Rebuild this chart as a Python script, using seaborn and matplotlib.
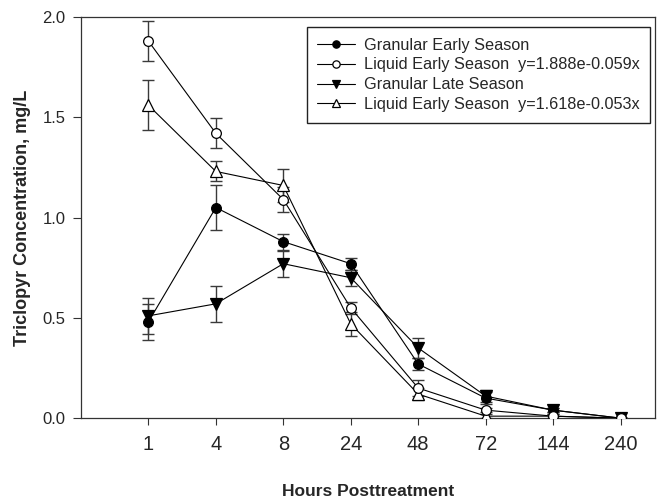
import matplotlib
matplotlib.use("Agg")
import matplotlib.pyplot as plt
import seaborn as sns
import pandas as pd

hours = ["1", "4", "8", "24", "48", "72", "144", "240"]

gran_early = [0.48, 1.05, 0.88, 0.77, 0.27, 0.10, 0.04, 0.00]
gran_early_err = [0.09, 0.11, 0.04, 0.03, 0.03, 0.03, 0.01, 0.00]

liq_early = [1.88, 1.42, 1.09, 0.55, 0.15, 0.04, 0.01, 0.00]
liq_early_err = [0.10, 0.075, 0.06, 0.03, 0.04, 0.01, 0.01, 0.00]

gran_late = [0.51, 0.57, 0.77, 0.70, 0.35, 0.11, 0.04, 0.00]
gran_late_err = [0.09, 0.09, 0.065, 0.04, 0.05, 0.03, 0.01, 0.00]

liq_early2 = [1.56, 1.23, 1.16, 0.47, 0.12, 0.01, 0.01, 0.00]
liq_early2_err = [0.125, 0.05, 0.08, 0.06, 0.03, 0.01, 0.01, 0.00]

labels = ["Granular Early Season",
          "Liquid Early Season  y=1.888e-0.059x",
          "Granular Late Season",
          "Liquid Early Season  y=1.618e-0.053x"]

sns.set_theme(style="ticks")
plt.rcParams["font.family"] = ["Liberation Sans", "DejaVu Sans"]

fig = plt.figure(figsize=(6.58, 4.99), dpi=100)
ax = fig.add_axes([0.123, 0.162, 0.8724, 0.804])

series = [
    (gran_early, gran_early_err, "o", "black", 7, 3),
    (liq_early, liq_early_err, "o", "white", 7, 5),
    (gran_late, gran_late_err, "v", "black", 8, 3),
    (liq_early2, liq_early2_err, "^", "white", 8, 4),
]

for (vals, errs, mk, fc, ms, z), lab in zip(series, labels):
    df = pd.DataFrame({"Hours": hours, "Conc": vals})
    ax.errorbar(df["Hours"], df["Conc"], yerr=errs, fmt="none",
                ecolor="#3a3a3a", elinewidth=1.0, capsize=4.3, capthick=1.0, zorder=2)
    sns.lineplot(data=df, x="Hours", y="Conc", ax=ax, color="black",
                 linewidth=0.8, marker=mk, markersize=ms,
                 markerfacecolor=fc, markeredgecolor="black",
                 markeredgewidth=0.9, label=lab, zorder=z, sort=False)

ax.set_xlim(-1, 7.51)
ax.set_ylim(0, 2.0)
ax.set_yticks([0.0, 0.5, 1.0, 1.5, 2.0])
ax.set_yticklabels(["0.0", "0.5", "1.0", "1.5", "2.0"])
ax.tick_params(axis="x", labelsize=14.5, length=5, width=0.8, color="#333333",
               direction="out", pad=7)
ax.tick_params(axis="y", labelsize=12, length=6, width=0.8, color="#333333",
               direction="out", pad=5)
for s in ax.spines.values():
    s.set_linewidth(0.9)
    s.set_color("#333333")
    s.set_visible(True)

ax.set_xlabel("Hours Posttreatment", fontsize=12.5, fontweight="bold", labelpad=22)
ax.set_ylabel("Triclopyr Concentration, mg/L", fontsize=13, fontweight="bold", labelpad=8)

leg = ax.legend(loc="upper right", bbox_to_anchor=(0.9915, 0.975), borderaxespad=0,
                fontsize=11.7, frameon=True, fancybox=False, framealpha=1,
                edgecolor="#222222", handlelength=2.3, handletextpad=0.55,
                labelspacing=0.3, borderpad=0.65, markerscale=0.75)
leg.get_frame().set_linewidth(1.0)
leg.set_zorder(10)

fig.savefig("out.png", dpi=100)
